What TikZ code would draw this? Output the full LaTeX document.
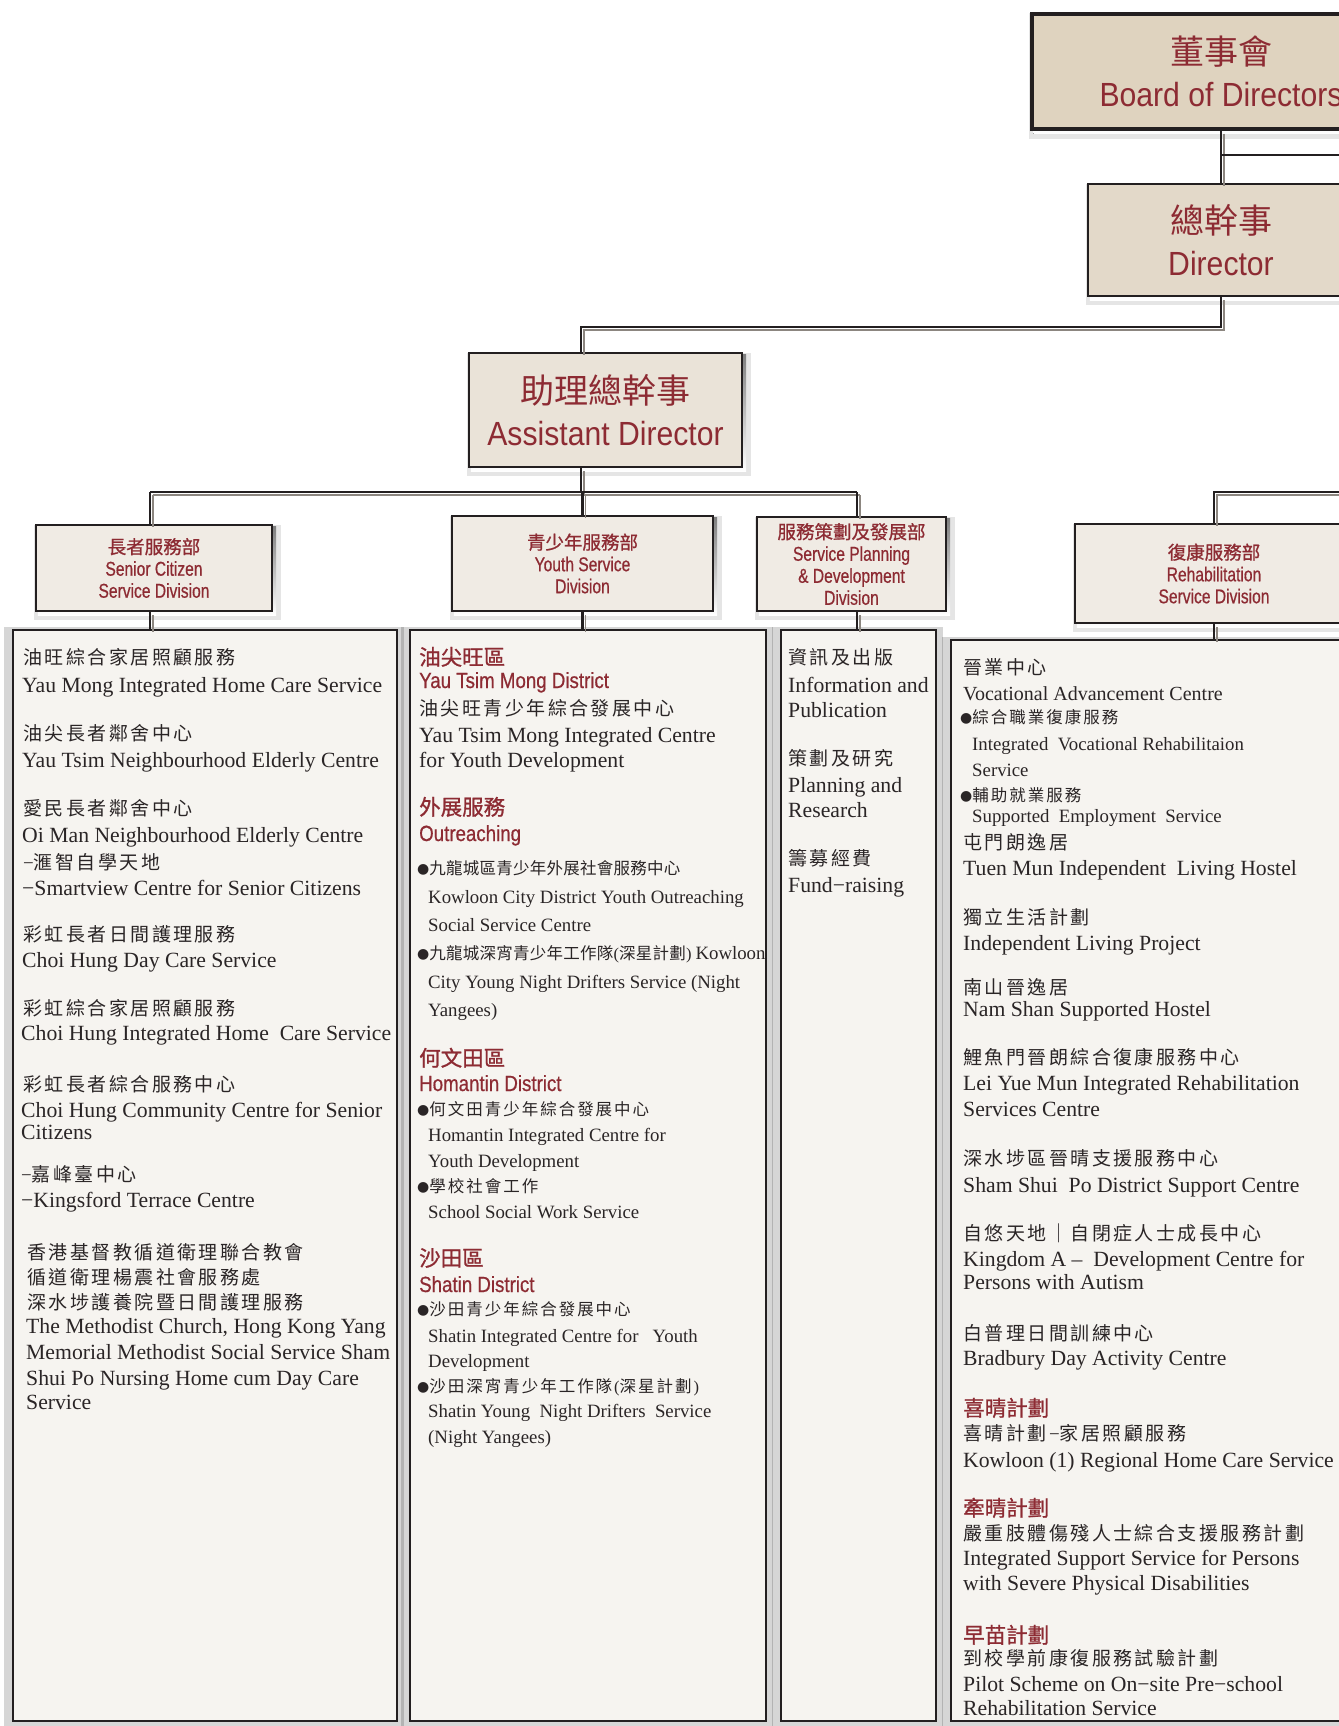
\documentclass[tikz,border=0pt]{standalone}
\usepackage{fontspec}
\setmainfont{Liberation Serif}
\newfontfamily\cjkA[LetterSpace=13]{Noto Sans CJK TC}
\newfontfamily\cjkB[LetterSpace=1.5]{Noto Sans CJK TC}
\newfontfamily\cjkC[LetterSpace=12]{Noto Sans CJK TC}
\newfontfamily\cjkH[FakeBold=1]{Noto Sans CJK TC}
\newfontfamily\cjkT{Noto Sans CJK TC}
\newfontfamily\condT[FakeStretch=0.9]{Liberation Sans}
\newfontfamily\condD[FakeStretch=0.78,FakeBold=0.6]{Liberation Sans}
\newfontfamily\condR[FakeStretch=0.85,FakeBold=0.6]{Liberation Sans}
\newfontfamily\bulfont{DejaVu Sans}
\usetikzlibrary{backgrounds}
\definecolor{hdred}{HTML}{8D2B33}
\definecolor{ink}{HTML}{2A2526}
\definecolor{edge}{HTML}{231F20}
\definecolor{shade}{HTML}{8C8680}
\definecolor{fBoard}{HTML}{DFD3BF}
\definecolor{fDir}{HTML}{E3D9C9}
\definecolor{fAD}{HTML}{EAE3D8}
\definecolor{fDiv}{HTML}{F0EBE4}
\definecolor{fCont}{HTML}{F6F4F0}
\newcounter{tlc}
\newcommand\tl[4]{\stepcounter{tlc}\edef\tln{t\arabic{tlc}}\node[txl,#1] (\tln) at (#2,#3) {#4};}
\newcommand\bulmark{{\bulfont\fontsize{14}{14}\selectfont\raisebox{0.5pt}{●}}}
\newcommand\dz{\cjkH\fontsize{18.5}{22}\selectfont}
\newcommand\conline[1]{\draw[cshd] #1; \draw[conn] #1;}
\begin{document}
\begin{tikzpicture}[x=1pt,y=-1pt,
  txl/.style={anchor=base west, inner sep=0pt, text=ink},
  zh/.style={font=\cjkA\fontsize{19}{21}\selectfont},
  zs/.style={font=\cjkB\fontsize{16.5}{18}\selectfont},
  zt/.style={font=\cjkC\fontsize{16.5}{18}\selectfont},
  en/.style={font=\fontsize{21.7}{24}\selectfont},
  em/.style={font=\fontsize{20}{22}\selectfont},
  es/.style={font=\fontsize{18.8}{22}\selectfont},
  rz/.style={font=\cjkH\fontsize{21.5}{24}\selectfont, text=hdred},
  re/.style={font=\condR\fontsize{22}{24}\selectfont, text=hdred},
  tbox/.style={rectangle, draw=edge, inner sep=0pt, align=center, text=hdred,
    font=\condT\fontsize{33.5}{41.5}\selectfont},
  dbox/.style={rectangle, draw=edge, line width=2.2pt, fill=fDiv, inner sep=0pt, align=center, text=hdred,
    font=\condD\fontsize{20}{22}\selectfont},
  cbox/.style={rectangle, draw=edge, line width=2pt, fill=fCont, inner sep=0pt},
  conn/.style={draw=edge, line width=2.4pt},
  cshd/.style={draw=shade, line width=1.6pt, transform canvas={shift={(3pt,-3pt)}}}
]
\useasboundingbox (0,0) rectangle (1338,1726);

% ---------- title boxes ----------
\node[tbox, fill=fBoard, line width=3.2pt, minimum width=378pt, minimum height=115pt] (board) at (1221,71.5)
  {{\cjkT\fontsize{34}{41.5}\selectfont 董事會}\\Board of Directors};
\node[tbox, fill=fDir, line width=2.2pt, minimum width=266pt, minimum height=112pt] (dir) at (1221,240)
  {{\cjkT\fontsize{34}{41.5}\selectfont 總幹事}\\Director};
\node[tbox, fill=fAD, line width=2.2pt, minimum width=273pt, minimum height=114pt] (ad) at (605.5,410)
  {{\cjkT\fontsize{34}{41.5}\selectfont 助理總幹事}\\Assistant Director};

% ---------- division boxes ----------
\node[dbox, minimum width=236pt, minimum height=86pt] (sen) at (154,568)
  {{\dz 長者服務部}\\Senior Citizen\\Service Division};
\node[dbox, minimum width=261pt, minimum height=95pt] (yth) at (582.5,563.5)
  {{\dz 青少年服務部}\\Youth Service\\Division};
\node[dbox, minimum width=189pt, minimum height=94pt] (spd) at (851.5,564)
  {{\dz 服務策劃及發展部}\\Service Planning\\\&~Development\\Division};
\node[dbox, minimum width=278pt, minimum height=99pt] (reh) at (1214,573.5)
  {{\dz 復康服務部}\\Rehabilitation\\Service Division};

% ---------- content boxes ----------
\node[cbox, minimum width=384pt, minimum height=1091pt] (senc) at (205,1175.5) {};
\node[cbox, minimum width=356pt, minimum height=1091pt] (yc) at (588,1175.5) {};
\node[cbox, minimum width=155pt, minimum height=1091pt] (spc) at (858.5,1175.5) {};
\node[cbox, minimum width=526pt, minimum height=1081pt] (rc) at (1214,1180.5) {};

% ---------- shadows ----------
\begin{pgfonlayer}{background}
\fill[white] (0,0) rectangle (1338,1726);
\foreach \n in {board,dir,ad,sen,yth,spd,reh}{
  \fill[black,opacity=.10] ([shift={(-1pt,-1pt)}]\n.north west) rectangle ([shift={(8pt,-8pt)}]\n.south east);
  \fill[shade] ([shift={(3pt,-3pt)}]\n.north west) rectangle ([shift={(3pt,-3pt)}]\n.south east);
}
\foreach \n in {senc,yc,spc,rc}{
  \fill[black,opacity=.16] ([shift={(-8pt,2pt)}]\n.north west) rectangle ([shift={(6pt,-5pt)}]\n.south east);
}
\end{pgfonlayer}

% ---------- connectors ----------
\coordinate (xS) at (150,0);
\coordinate (xA) at (581,0);
\coordinate (xP) at (857,0);
\coordinate (jB) at (1221,155);
\coordinate (jBr) at (1350,155);
\coordinate (jD) at (1221,327);
\coordinate (bus) at (0,492);
\coordinate (rbus) at (1350,492);

\conline{(board.south) -- (dir.north)}
\draw[draw=edge, line width=1.8pt] (jB) -- (jBr);
\conline{(dir.south) -- (jD) -| (ad.north -| xA)}
\conline{(ad.south -| xA) -- (bus -| xA)}
\conline{(bus -| xS) -- (bus -| xP)}
\conline{(bus -| xS) -- (sen.north -| xS)}
\conline{(bus -| yth) -- (yth.north)}
\conline{(bus -| xP) -- (spd.north -| xP)}
\conline{(rbus) -- (bus -| reh) -- (reh.north)}
\conline{(sen.south -| xS) -- (senc.north -| xS)}
\conline{(yth.south) -- (yc.north -| yth)}
\conline{(spd.south -| xP) -- (spc.north -| xP)}
\conline{(reh.south) -- (rc.north -| reh)}

% ---------- Senior column ----------
\tl{zh}{23}{664}{油旺綜合家居照顧服務}
\tl{en}{22}{692}{Yau Mong Integrated Home Care Service}
\tl{zh}{23}{740}{油尖長者鄰舍中心}
\tl{en}{22}{767}{Yau Tsim Neighbourhood Elderly Centre}
\tl{zh}{23}{815}{愛民長者鄰舍中心}
\tl{en}{22}{842}{Oi Man Neighbourhood Elderly Centre}
\tl{zh}{23}{869}{\textrm{−}滙智自學天地}
\tl{en}{22}{895}{−Smartview Centre for Senior Citizens}
\tl{zh}{23}{941}{彩虹長者日間護理服務}
\tl{en}{22}{967}{Choi Hung Day Care Service}
\tl{zh}{23}{1015}{彩虹綜合家居照顧服務}
\tl{en}{21}{1040}{Choi Hung Integrated Home\ \ Care Service}
\tl{zh}{23}{1091}{彩虹長者綜合服務中心}
\tl{en}{21}{1117}{Choi Hung Community Centre for Senior}
\tl{en}{21}{1139}{Citizens}
\tl{zh}{21}{1181}{\textrm{−}嘉峰臺中心}
\tl{en}{21}{1207}{−Kingsford Terrace Centre}
\tl{zh}{27}{1259}{香港基督教循道衛理聯合教會}
\tl{zh}{27}{1284}{循道衛理楊震社會服務處}
\tl{zh}{27}{1309}{深水埗護養院暨日間護理服務}
\tl{en}{26}{1333}{The Methodist Church, Hong Kong Yang}
\tl{en}{26}{1359}{Memorial Methodist Social Service Sham}
\tl{en}{26}{1385}{Shui Po Nursing Home cum Day Care}
\tl{en}{26}{1409}{Service}

% ---------- Youth column ----------
\tl{rz}{419}{665}{油尖旺區}
\tl{re}{419}{688}{Yau Tsim Mong District}
\tl{zh}{419}{715}{油尖旺青少年綜合發展中心}
\tl{en}{419}{742}{Yau Tsim Mong Integrated Centre}
\tl{en}{419}{767}{for Youth Development}
\tl{rz}{419}{815}{外展服務}
\tl{re}{419}{841}{Outreaching}
\tl{zs}{417}{874}{\bulmark 九龍城區青少年外展社會服務中心}
\tl{es}{428}{903}{Kowloon City District Youth Outreaching}
\tl{es}{428}{931}{Social Service Centre}
\tl{zs}{417}{959}{\bulmark 九龍城深宵青少年工作隊\textrm{(}深星計劃\textrm{)} {\rmfamily\fontsize{18.8}{22}\selectfont Kowloon}}
\tl{es}{428}{988}{City Young Night Drifters Service (Night}
\tl{es}{428}{1016}{Yangees)}
\tl{rz}{419}{1066}{何文田區}
\tl{re}{419}{1091}{Homantin District}
\tl{zt}{417}{1115}{\bulmark 何文田青少年綜合發展中心}
\tl{es}{428}{1141}{Homantin Integrated Centre for}
\tl{es}{428}{1167}{Youth Development}
\tl{zt}{417}{1192}{\bulmark 學校社會工作}
\tl{es}{428}{1218}{School Social Work Service}
\tl{rz}{419}{1266}{沙田區}
\tl{re}{419}{1292}{Shatin District}
\tl{zt}{417}{1315}{\bulmark 沙田青少年綜合發展中心}
\tl{es}{428}{1342}{Shatin Integrated Centre for\ \ \ Youth}
\tl{es}{428}{1367}{Development}
\tl{zt}{417}{1392}{\bulmark 沙田深宵青少年工作隊\textrm{(}深星計劃\textrm{)}}
\tl{es}{428}{1417}{Shatin Young\ \ Night Drifters\ \ Service}
\tl{es}{428}{1443}{(Night Yangees)}

% ---------- Service Planning column ----------
\tl{zh}{788}{664}{資訊及出版}
\tl{en}{788}{692}{Information and}
\tl{en}{788}{717}{Publication}
\tl{zh}{788}{765}{策劃及研究}
\tl{en}{788}{792}{Planning and}
\tl{en}{788}{817}{Research}
\tl{zh}{788}{865}{籌募經費}
\tl{en}{788}{892}{Fund−raising}

% ---------- Rehabilitation column ----------
\tl{zh}{963}{674}{晉業中心}
\tl{em}{963}{700}{Vocational Advancement Centre}
\tl{zt}{960}{723}{\bulmark 綜合職業復康服務}
\tl{es}{972}{750}{Integrated\ \ Vocational Rehabilitaion}
\tl{es}{972}{776}{Service}
\tl{zt}{960}{801}{\bulmark 輔助就業服務}
\tl{es}{972}{822}{Supported\ \ Employment\ \ Service}
\tl{zh}{963}{849}{屯門朗逸居}
\tl{en}{963}{875}{Tuen Mun Independent\ \ Living Hostel}
\tl{zh}{963}{924}{獨立生活計劃}
\tl{en}{963}{950}{Independent Living Project}
\tl{zh}{963}{994}{南山晉逸居}
\tl{en}{963}{1016}{Nam Shan Supported Hostel}
\tl{zh}{963}{1064}{鯉魚門晉朗綜合復康服務中心}
\tl{en}{963}{1090}{Lei Yue Mun Integrated Rehabilitation}
\tl{en}{963}{1116}{Services Centre}
\tl{zh}{963}{1165}{深水埗區晉晴支援服務中心}
\tl{en}{963}{1192}{Sham Shui\ \ Po District Support Centre}
\tl{zh}{963}{1240}{自悠天地｜自閉症人士成長中心}
\tl{en}{963}{1266}{Kingdom A\ –\ \ Development Centre for}
\tl{en}{963}{1289}{Persons with Autism}
\tl{zh}{963}{1340}{白普理日間訓練中心}
\tl{en}{963}{1365}{Bradbury Day Activity Centre}
\tl{rz}{963}{1416}{喜晴計劃}
\tl{zh}{963}{1440}{喜晴計劃\textrm{−}家居照顧服務}
\tl{en}{963}{1467}{Kowloon (1) Regional Home Care Service}
\tl{rz}{963}{1516}{牽晴計劃}
\tl{zh}{963}{1540}{嚴重肢體傷殘人士綜合支援服務計劃}
\tl{en}{963}{1565}{Integrated Support Service for Persons}
\tl{en}{963}{1590}{with Severe Physical Disabilities}
\tl{rz}{963}{1643}{早苗計劃}
\tl{zh}{963}{1665}{到校學前康復服務試驗計劃}
\tl{en}{963}{1691}{Pilot Scheme on On−site Pre−school}
\tl{en}{963}{1715}{Rehabilitation Service}
\end{tikzpicture}
\end{document}
